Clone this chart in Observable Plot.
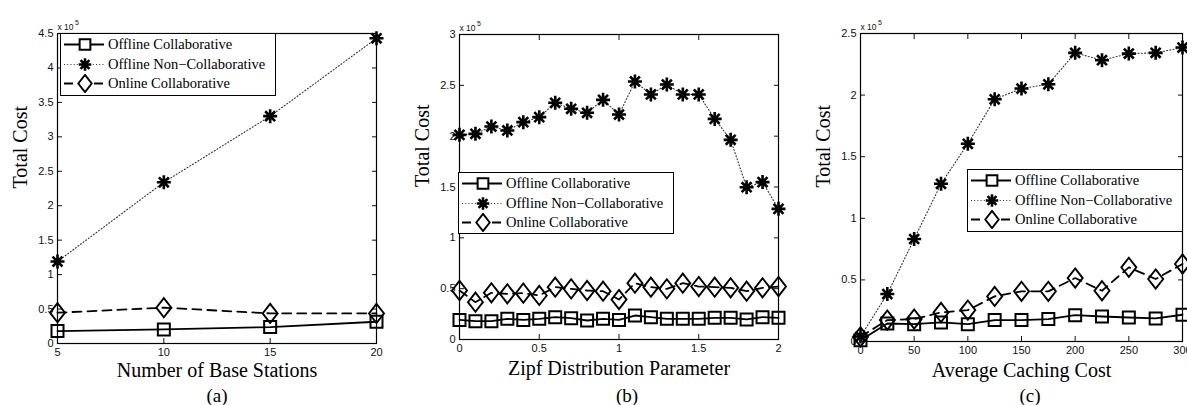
<!DOCTYPE html>
<html><head><meta charset="utf-8">
<script src="https://cdn.jsdelivr.net/npm/d3@7"></script>
<script src="https://cdn.jsdelivr.net/npm/@observablehq/plot@0.6"></script>
<style>
html,body{margin:0;padding:0;background:#fff;}
#root{position:relative;width:1187px;height:405px;overflow:hidden;background:#fff;}
.panel{position:absolute;top:0;}
.cap{position:absolute;top:386px;width:60px;height:19px;line-height:19px;font-family:"Liberation Serif",serif;font-size:19px;text-align:center;color:#000;}
.legend{position:absolute;box-sizing:border-box;background:#fff;border:1.5px solid #000;font-family:"Liberation Serif","Times New Roman",serif;font-size:14.5px;color:#000;padding-top:1px;}
.legend .row{display:flex;align-items:center;height:19.5px;white-space:nowrap;}
.legend svg{margin-left:3px;margin-right:4px;flex:none;}
</style>
</head><body><div id="root"></div>
<script>
const seriesNames = ["Offline Collaborative", "Offline Non\u2212Collaborative", "Online Collaborative"];

// Panel (a)
const aX = [5, 10, 15, 20];
const aOffline = [0.18, 0.204, 0.238, 0.316];
const aNonCollab = [1.19, 2.34, 3.30, 4.43];
const aOnline = [0.447, 0.52, 0.437, 0.437];
const aXTicks = [5, 10, 15, 20];
const aYTicks = [0, 0.5, 1, 1.5, 2, 2.5, 3, 3.5, 4, 4.5];

// Panel (b)
const bX = [0, 0.1, 0.2, 0.3, 0.4, 0.5, 0.6, 0.7, 0.8, 0.9, 1.0, 1.1, 1.2, 1.3, 1.4, 1.5, 1.6, 1.7, 1.8, 1.9, 2.0];
const bOffline = [0.193, 0.18, 0.18, 0.203, 0.193, 0.203, 0.22, 0.21, 0.187, 0.203, 0.193, 0.236, 0.22, 0.203, 0.203, 0.203, 0.213, 0.213, 0.197, 0.22, 0.213];
const bNonCollab = [2.013, 2.023, 2.095, 2.056, 2.138, 2.187, 2.328, 2.269, 2.23, 2.357, 2.213, 2.538, 2.41, 2.508, 2.41, 2.41, 2.17, 1.964, 1.498, 1.548, 1.285];
const bOnline = [0.482, 0.367, 0.459, 0.449, 0.456, 0.433, 0.515, 0.498, 0.482, 0.475, 0.393, 0.554, 0.515, 0.498, 0.554, 0.521, 0.515, 0.508, 0.475, 0.508, 0.521];
const bXTicks = [0, 0.5, 1, 1.5, 2];
const bYTicks = [0, 0.5, 1, 1.5, 2, 2.5, 3];

// Panel (c)
const cX = [0, 25, 50, 75, 100, 125, 150, 175, 200, 225, 250, 275, 300];
const cOffline = [0.011, 0.146, 0.141, 0.155, 0.141, 0.174, 0.174, 0.182, 0.214, 0.203, 0.195, 0.187, 0.217];
const cNonCollab = [0.04, 0.385, 0.832, 1.28, 1.605, 1.966, 2.053, 2.088, 2.343, 2.283, 2.337, 2.343, 2.386];
const cOnline = [0.038, 0.174, 0.182, 0.236, 0.255, 0.366, 0.407, 0.407, 0.515, 0.412, 0.602, 0.507, 0.629];
const cXTicks = [0, 50, 100, 150, 200, 250, 300];
const cYTicks = [0, 0.5, 1, 1.5, 2, 2.5];

// custom marker shapes (MATLAB-like)
const squareSym = {draw(ctx, size) { const r = Math.sqrt(size / Math.PI); ctx.rect(-r, -r, 2 * r, 2 * r); }};
const diamondSym = {draw(ctx, size) { const r = Math.sqrt(size / Math.PI), h = r * 1.28;
  ctx.moveTo(0, -h); ctx.lineTo(r, 0); ctx.lineTo(0, h); ctx.lineTo(-r, 0); ctx.closePath(); }};
const asteriskSym = {draw(ctx, size) { const r = Math.sqrt(size / Math.PI);
  for (let k = 0; k < 4; k++) { const a = k * Math.PI / 4; const c = Math.cos(a) * r, s = Math.sin(a) * r;
    ctx.moveTo(-c, -s); ctx.lineTo(c, s); } }};

const styles = [
  {stroke: "#000", strokeWidth: 1.8, dash: null, symbol: squareSym, r: 6, mw: 2},
  {stroke: "#333", strokeWidth: 1.1, dash: "1,2.2", symbol: asteriskSym, r: 7, mw: 2.6},
  {stroke: "#000", strokeWidth: 1.8, dash: "9,6", symbol: diamondSym, r: 7.5, mw: 1.9}
];

const fmt = d => String(d);
const root = document.getElementById("root");

function makePanel(cfg) {
  const series = cfg.series.map((vals, i) => cfg.xs.map((x, j) => ({x, y: vals[j], s: seriesNames[i]})));
  const marks = [];
  series.forEach((rows, i) => {
    const st = styles[i];
    marks.push(Plot.line(rows, {x: "x", y: "y", stroke: st.stroke, strokeWidth: st.strokeWidth, strokeDasharray: st.dash}));
    marks.push(Plot.dot(rows, {x: "x", y: "y", symbol: st.symbol, r: st.r, stroke: "#000", strokeWidth: st.mw, fill: "none"}));
  });
  const plot = Plot.plot({
    width: cfg.width, height: 383,
    marginLeft: cfg.ml, marginRight: cfg.mr, marginTop: cfg.mt, marginBottom: cfg.mb,
    x: {domain: cfg.xDomain},
    y: {domain: cfg.yDomain},
    style: {fontFamily: "'Liberation Sans', Arial, sans-serif", fontSize: "11px", color: "#111", background: "transparent"},
    marks: [
      Plot.axisX(cfg.xTicks, {anchor: "bottom", tickSize: -5, tickPadding: 10, tickFormat: fmt, label: null, fontSize: 11}),
      Plot.axisX(cfg.xTicks, {anchor: "top", tickSize: -5, tickFormat: () => "", label: null}),
      Plot.axisY(cfg.yTicks, {anchor: "left", tickSize: -5, tickPadding: 9, tickFormat: fmt, label: null, fontSize: 11}),
      Plot.axisY(cfg.yTicks, {anchor: "right", tickSize: -5, tickFormat: () => "", label: null}),
      ...marks,
      Plot.frame({stroke: "#000", strokeWidth: 1.2}),
      Plot.text(["Total Cost"], {text: d => d, frameAnchor: "left", rotate: -90, dx: -37, fontFamily: "'Liberation Serif', serif", fontSize: 20, fill: "#000"}),
      Plot.text([cfg.xLabel], {text: d => d, frameAnchor: "bottom", dy: cfg.xLabelDy, lineAnchor: "middle", fontFamily: "'Liberation Serif', serif", fontSize: 20, fill: "#000"}),
      Plot.text(["x 10"], {text: d => d, frameAnchor: "top-left", textAnchor: "start", lineAnchor: "bottom", dy: -4, fontSize: 8.5, fill: "#111"}),
      Plot.text(["5"], {text: d => d, frameAnchor: "top-left", textAnchor: "start", lineAnchor: "bottom", dx: 17.5, dy: -9, fontSize: 7, fill: "#111"})
    ]
  });
  plot.classList.add("panel");
  plot.style.left = cfg.left + "px";
  root.appendChild(plot);

  const cap = document.createElement("div");
  cap.className = "cap";
  cap.textContent = cfg.caption;
  cap.style.left = (cfg.capX - 30) + "px";
  root.appendChild(cap);

  const lg = document.createElement("div");
  lg.className = "legend";
  Object.assign(lg.style, {left: cfg.legend[0] + "px", top: cfg.legend[1] + "px", width: cfg.legend[2] + "px", height: cfg.legend[3] + "px"});
  seriesNames.forEach((name, i) => {
    const st = styles[i];
    const row = document.createElement("div");
    row.className = "row";
    const sv = d3.create("svg").attr("width", 40).attr("height", 19);
    sv.append("line").attr("x1", 0).attr("x2", 40).attr("y1", 9.5).attr("y2", 9.5)
      .attr("stroke", st.stroke).attr("stroke-width", st.strokeWidth).attr("stroke-dasharray", st.dash);
    sv.append("path").attr("transform", "translate(21,9.5)")
      .attr("d", d3.symbol(st.symbol, Math.PI * st.r * st.r * 0.8)())
      .attr("fill", "#fff").attr("stroke", "#000").attr("stroke-width", st.mw);
    row.appendChild(sv.node());
    const t = document.createElement("span");
    t.textContent = name;
    row.appendChild(t);
    lg.appendChild(row);
  });
  root.appendChild(lg);
}

makePanel({left: 0, width: 390, ml: 57, mr: 14, mt: 33, mb: 40, xDomain: [5, 20], yDomain: [0, 4.5],
  xTicks: aXTicks, yTicks: aYTicks, xs: aX, series: [aOffline, aNonCollab, aOnline],
  xLabel: "Number of Base Stations", xLabelDy: 27, caption: "(a)", capX: 217, legend: [60, 33, 216, 63]});
makePanel({left: 390, width: 400, ml: 69, mr: 12, mt: 34, mb: 44, xDomain: [0, 2], yDomain: [0, 3],
  xTicks: bXTicks, yTicks: bYTicks, xs: bX, series: [bOffline, bNonCollab, bOnline],
  xLabel: "Zipf Distribution Parameter", xLabelDy: 29, caption: "(b)", capX: 627, legend: [458, 172, 216, 62]});
makePanel({left: 790, width: 410, ml: 70, mr: 18, mt: 33, mb: 42, xDomain: [0, 300], yDomain: [0, 2.5],
  xTicks: cXTicks, yTicks: cYTicks, xs: cX, series: [cOffline, cNonCollab, cOnline],
  xLabel: "Average Caching Cost", xLabelDy: 29, caption: "(c)", capX: 1030, legend: [967, 169, 216, 63]});
</script>
</body></html>
